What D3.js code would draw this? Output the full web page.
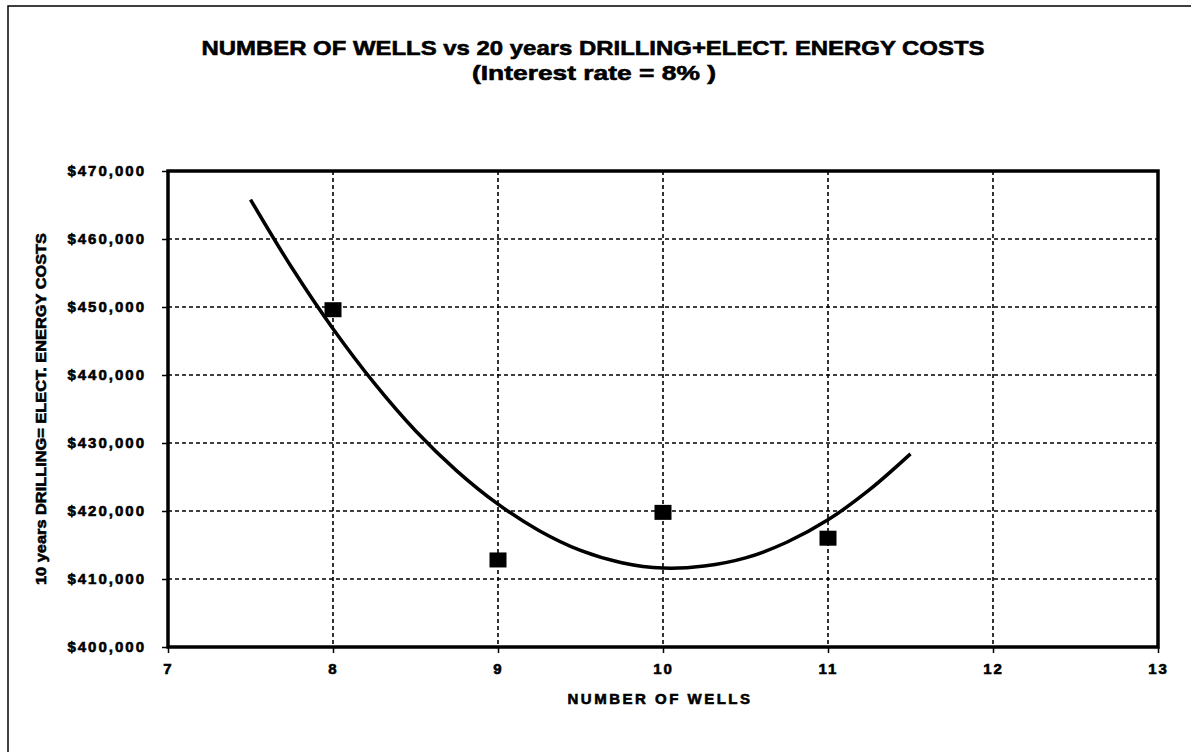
<!DOCTYPE html>
<meta charset="utf-8">
<head>
    <style>
        body {
            margin: 0;
            background: #fff;
            font-family: "Liberation Sans", Arial, Helvetica, sans-serif;
        }

        svg {
            display: block;
        }

        text {
            font-weight: bold;
            fill: #000;
            stroke: #000;
            stroke-width: 0.6;
        }

        .grid line {
            stroke: #000;
            stroke-width: 1.6;
            stroke-dasharray: 4, 3;
        }

        .axis path {
            display: none;
        }

        .axis line {
            stroke: #000;
            stroke-width: 1.5;
        }

        .axis text {
            font-size: 15px;
            letter-spacing: 2px;
        }

        .fit {
            fill: none;
            stroke: #000;
            stroke-width: 3.5;
        }
    </style>
</head>

<body>
    <script src="https://cdn.jsdelivr.net/npm/d3@7"></script>
    <script>
        // measured cost points
        var wells = [8, 9, 10, 11];
        var costs = [449600, 412800, 419800, 416000];

        // trend curve
        var curveX = [7.5, 7.75, 8, 8.25, 8.5, 8.75, 9, 9.25, 9.5, 9.75, 10, 10.25, 10.5, 10.75, 11, 11.25, 11.5];
        var curveY = [465800, 455800, 446800, 438800, 431800, 425900, 421000, 417100, 414200, 412400, 411600, 411900, 413100, 415400, 418700, 423100, 428400];

        var xTicks = [7, 8, 9, 10, 11, 12, 13];
        var yTicks = [400000, 410000, 420000, 430000, 440000, 450000, 460000, 470000];

        var titleLines = ["NUMBER OF WELLS vs 20 years DRILLING+ELECT. ENERGY COSTS", "(Interest rate = 8% )"];
        var xTitle = "NUMBER OF WELLS";
        var yTitle = "10 years DRILLING= ELECT. ENERGY COSTS";

        var width = 1191, height = 752;
        var plot = { left: 168, top: 171, right: 1158, bottom: 647 };

        var svg = d3.select("body").append("svg")
            .attr("width", width)
            .attr("height", height);

        // outer frame, runs off the right and bottom edge like the scan
        svg.append("rect")
            .attr("x", 8).attr("y", 6)
            .attr("width", 1200).attr("height", 800)
            .attr("fill", "none")
            .attr("stroke", "#000")
            .attr("stroke-width", 1.5);

        var x = d3.scaleLinear().domain([7, 13]).range([plot.left, plot.right]);
        var y = d3.scaleLinear().domain([400000, 470000]).range([plot.bottom, plot.top]);

        // title
        svg.append("text")
            .attr("x", 593).attr("y", 55)
            .attr("text-anchor", "middle")
            .attr("textLength", 783)
            .attr("lengthAdjust", "spacingAndGlyphs")
            .style("font-size", "21px")
            .text(titleLines[0]);

        svg.append("text")
            .attr("x", 594).attr("y", 80)
            .attr("text-anchor", "middle")
            .attr("textLength", 244)
            .attr("lengthAdjust", "spacingAndGlyphs")
            .style("font-size", "21px")
            .text(titleLines[1]);

        // grid
        var grid = svg.append("g").attr("class", "grid");
        grid.selectAll(".gx")
            .data(xTicks.slice(1, -1))
            .enter().append("line")
            .attr("x1", function (d) { return x(d); })
            .attr("x2", function (d) { return x(d); })
            .attr("y1", plot.top)
            .attr("y2", plot.bottom);
        grid.selectAll(".gy")
            .data(yTicks.slice(1, -1))
            .enter().append("line")
            .attr("x1", plot.left)
            .attr("x2", plot.right)
            .attr("y1", function (d) { return y(d); })
            .attr("y2", function (d) { return y(d); });

        // axes
        svg.append("g")
            .attr("class", "axis")
            .attr("transform", "translate(0," + plot.bottom + ")")
            .call(d3.axisBottom(x).tickValues(xTicks).tickSize(6).tickPadding(10).tickFormat(d3.format("d")));

        svg.append("g")
            .attr("class", "axis")
            .attr("transform", "translate(" + plot.left + ",0)")
            .call(d3.axisLeft(y).tickValues(yTicks).tickSize(6).tickPadding(16)
                .tickFormat(function (d) { return "$" + d3.format(",")(d); }));

        // plot frame
        svg.append("rect")
            .attr("x", plot.left).attr("y", plot.top)
            .attr("width", plot.right - plot.left)
            .attr("height", plot.bottom - plot.top)
            .attr("fill", "none")
            .attr("stroke", "#000")
            .attr("stroke-width", 3.5);

        // axis titles
        svg.append("text")
            .attr("x", 660).attr("y", 704)
            .attr("text-anchor", "middle")
            .style("font-size", "15px")
            .style("letter-spacing", "2.5px")
            .text(xTitle);

        svg.append("text")
            .attr("transform", "translate(46," + ((plot.top + plot.bottom) / 2) + ") rotate(-90)")
            .attr("text-anchor", "middle")
            .attr("textLength", 352)
            .attr("lengthAdjust", "spacingAndGlyphs")
            .style("font-size", "15px")
            .text(yTitle);

        // trend curve
        var line = d3.line()
            .x(function (d, i) { return x(curveX[i]); })
            .y(function (d) { return y(d); })
            .curve(d3.curveCatmullRom);

        svg.append("path")
            .datum(curveY)
            .attr("class", "fit")
            .attr("d", line);

        // markers
        svg.selectAll(".pt")
            .data(costs)
            .enter().append("rect")
            .attr("class", "pt")
            .attr("x", function (d, i) { return x(wells[i]) - 8.5; })
            .attr("y", function (d) { return y(d) - 7.5; })
            .attr("width", 17)
            .attr("height", 15)
            .attr("fill", "#000");
    </script>
</body>
